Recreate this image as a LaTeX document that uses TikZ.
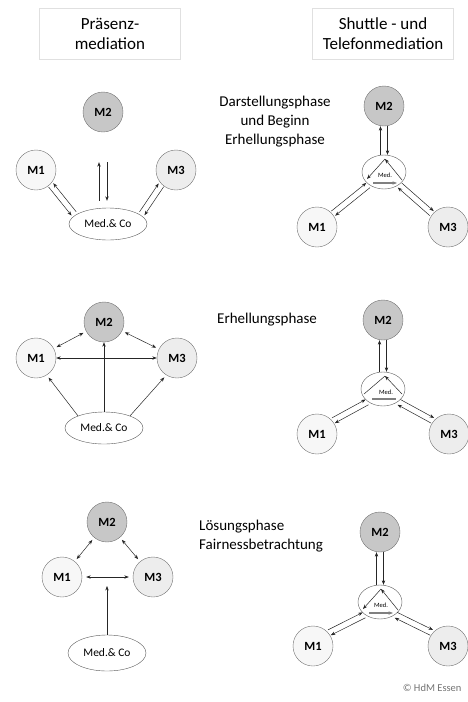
\documentclass[tikz,border=0pt]{standalone}
\usepackage{fontspec}
\setmainfont{Carlito}
\usetikzlibrary{arrows.meta,calc,shapes.geometric}

% two parallel arrows, one each way
\newcommand*{\pairarr}[4][]{%
	\draw[arr,->,#1] ($(#2)!#4!90:(#3)$) -- ($(#3)!#4!-90:(#2)$);
	\draw[arr,<-,#1] ($(#2)!#4!-90:(#3)$) -- ($(#3)!#4!90:(#2)$);
}

\begin{document}
\begin{tikzpicture}
[
	x=1pt,y=-1pt,
	>={Stealth[length=4.5pt,width=3.4pt]},
	headbox/.style={rectangle,draw=black!12,fill=white,minimum width=141pt,minimum height=51pt,align=center,font=\fontsize{17}{20}\selectfont},
	phasetext/.style={inner sep=0pt,font=\fontsize{15}{19}\selectfont},
	mnode/.style={circle,draw=black!55,minimum size=40pt,inner sep=0pt,font=\fontsize{12.5}{12.5}\selectfont\bfseries},
	mone/.style={mnode,fill=black!3},
	mtwo/.style={mnode,fill=black!22},
	mthree/.style={mnode,fill=black!7},
	medco/.style={ellipse,draw=black!65,fill=white,minimum width=78pt,minimum height=32pt,inner sep=0pt,font=\fontsize{11.5}{11.5}\selectfont},
	medsm/.style={ellipse,draw=black!65,fill=white,minimum width=44pt,minimum height=34pt,inner sep=0pt},
	arr/.style={draw=black!85,line width=0.5pt},
	medbar/.style={draw=black!50,line width=1.3pt},
	medtext/.style={inner sep=0pt,font=\fontsize{6.5}{6.5}\selectfont}
]
	\useasboundingbox (0,0) rectangle (467,702);

	% headers
	\node[headbox] (hpraes) at (110,34) {Präsenz-\\mediation};
	\node[headbox] (hshuttle) at (383,34) {Shuttle - und\\Telefonmediation};

	% phase labels
	\node[phasetext,align=center] (lphase1) at (275,122) {Darstellungsphase\\und Beginn\\Erhellungsphase};
	\node[phasetext,anchor=west] (lphase2) at (217,320) {Erhellungsphase};
	\node[phasetext,align=left,anchor=west] (lphase3) at (199,536) {Lösungsphase\\Fairnessbetrachtung};

	% phase one, Praesenz
	\node[mtwo] (am2) at (103,112) {M2};
	\node[mone] (am1) at (36,170) {M1};
	\node[mthree] (am3) at (176,170) {M3};
	\node[medco] (amed) at (108,224) {Med.\& Co};
	\pairarr[shorten <=1pt,shorten >=2pt]{am1.-45}{amed.165}{-3pt}
	\pairarr[shorten <=30pt,shorten >=7pt]{am2.south}{am2 |- amed.north}{4pt}
	\pairarr[shorten <=1pt,shorten >=2pt]{am3.-135}{amed.15}{3pt}

	% phase one, Shuttle
	\node[mtwo] (bm2) at (384,106) {M2};
	\node[medsm] (bmed) at (384,172) {};
	\node[mone] (bm1) at (317,227) {M1};
	\node[mthree] (bm3) at (448,227) {M3};
	\pairarr{bm2.south}{bmed.north}{3.5pt}
	\pairarr[shorten <=1pt,shorten >=1pt]{bm1.40}{bmed.220}{3pt}
	\pairarr[shorten <=1pt,shorten >=1pt]{bm3.140}{bmed.-40}{3pt}
	\begin{scope}[shift={(bmed)}]
		\draw[arr,->] (1,-13) -- (-17,7);
		\draw[arr,->] (18,8) -- (1,-13);
		\draw[medbar,->] (-11,11) -- (13,11);
		\node[medtext] (bmedtxt) at (1,3) {Med.};
	\end{scope}

	% phase two, Praesenz
	\node[mtwo] (cm2) at (104,322) {M2};
	\node[mone] (cm1) at (36,358) {M1};
	\node[mthree] (cm3) at (177,358) {M3};
	\node[medco] (cmed) at (104,428) {Med.\& Co};
	\draw[arr,<->,shorten <=3pt,shorten >=3pt] (cm1) -- (cm2);
	\draw[arr,<->,shorten <=3pt,shorten >=3pt] (cm2) -- (cm3);
	\draw[arr,<->] (cm1) -- (cm3);
	\draw[arr,->,shorten >=3pt] (cmed.155) -- (cm1.-58);
	\draw[arr,->,shorten >=3pt] (cmed.25) -- (cm3.-122);
	\draw[arr,->] (cmed.north) -- (cm2.south);

	% phase two, Shuttle
	\node[mtwo] (dm2) at (383,320) {M2};
	\node[medsm] (dmed) at (383,389) {};
	\node[mone] (dm1) at (317,434) {M1};
	\node[mthree] (dm3) at (449,434) {M3};
	\pairarr{dm2.south}{dmed.north}{3.5pt}
	\pairarr[shorten <=1pt,shorten >=1pt]{dm1.40}{dmed.220}{3pt}
	\pairarr[shorten <=1pt,shorten >=1pt]{dm3.140}{dmed.-40}{3pt}
	\begin{scope}[shift={(dmed)}]
		\draw[arr] (2,-13) -- (-19,5);
		\draw[arr,->] (19,5) -- (2,-13);
		\draw[medbar] (-11,10) -- (13,10);
		\node[medtext] (dmedtxt) at (3,3) {Med.};
	\end{scope}

	% phase three, Praesenz
	\node[mtwo] (em2) at (107,522) {M2};
	\node[mone] (em1) at (62,577) {M1};
	\node[mthree] (em3) at (153,577) {M3};
	\node[medco,minimum height=36pt] (emed) at (107,653) {Med.\& Co};
	\coordinate (etip) at (107,586);
	\draw[arr,<->,shorten <=3pt,shorten >=3pt] (em1) -- (em2);
	\draw[arr,<->,shorten <=3pt,shorten >=3pt] (em2) -- (em3);
	\draw[arr,<->,shorten <=4pt,shorten >=4pt] (em1) -- (em3);
	\draw[arr,->] (emed.north) -- (etip);

	% phase three, Shuttle
	\node[mtwo] (fm2) at (380,532) {M2};
	\node[medsm] (fmed) at (380,602) {};
	\node[mone] (fm1) at (313,646) {M1};
	\node[mthree] (fm3) at (448,646) {M3};
	\pairarr{fm2.south}{fmed.north}{3.5pt}
	\pairarr[shorten <=1pt,shorten >=1pt]{fm1.40}{fmed.220}{3pt}
	\pairarr[shorten <=1pt,shorten >=1pt]{fm3.140}{fmed.-40}{3pt}
	\begin{scope}[shift={(fmed)}]
		\draw[arr,->] (1,-13) -- (-17,7);
		\draw[arr,->] (18,8) -- (1,-13);
		\draw[medbar,->] (-11,11) -- (13,11);
		\node[medtext] (fmedtxt) at (1,3) {Med.};
	\end{scope}

	% copyright
	\node[anchor=east,text=black!55,font=\fontsize{10.5}{10.5}\selectfont] (copyr) at (465,688) {© HdM Essen};

\end{tikzpicture}
\end{document}
